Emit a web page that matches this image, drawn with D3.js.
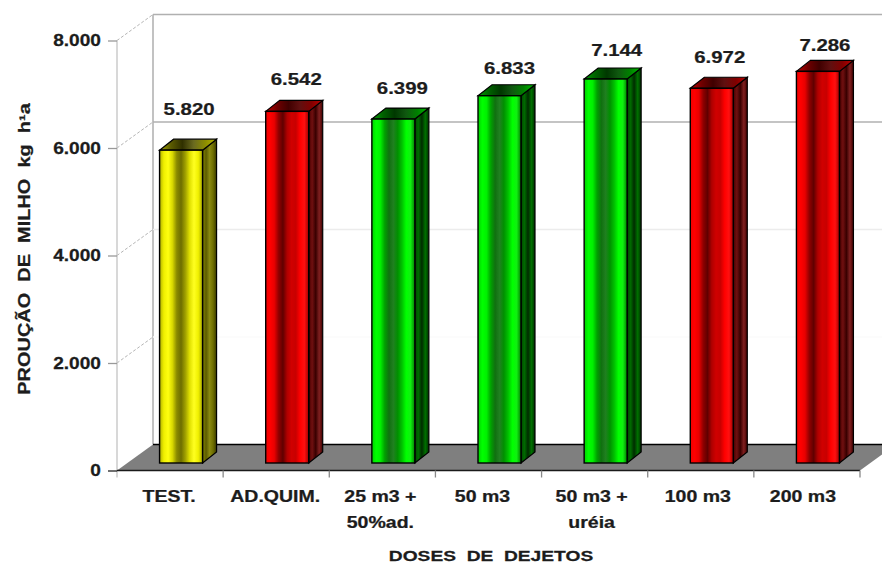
<!DOCTYPE html>
<html>
<head>
<meta charset="utf-8">
<script src="https://cdn.jsdelivr.net/npm/d3@7/dist/d3.min.js"></script>
<style>
html,body{margin:0;padding:0;background:#fff}
svg{display:block}
text{font-family:"Liberation Sans",Arial,sans-serif;font-weight:bold;fill:#1c1c1c;stroke:#1c1c1c;stroke-width:0.25px}
</style>
</head>
<body>
<svg id="chart" width="882" height="565"></svg>
<script>
const categories = ["TEST.", "AD.QUIM.", "25 m3 +|50%ad.", "50 m3", "50 m3 +|uréia", "100 m3", "200 m3"];
const yields = [5820, 6542, 6399, 6833, 7144, 6972, 7286];
const valueLabels = ["5.820", "6.542", "6.399", "6.833", "7.144", "6.972", "7.286"];
const barHues = ["yellow", "red", "green", "green", "green", "red", "red"];
const yTicks = [0, 2000, 4000, 6000, 8000];
const yTickLabels = ["0", "2.000", "4.000", "6.000", "8.000"];

const svg = d3.select("#chart");
const W = 882;

// Front plane of the 3D box and the oblique offset of its back wall
const x = d3.scaleBand().domain(d3.range(categories.length)).range([117, 860]).padding(0);
const y = d3.scaleLinear().domain([0, 8000]).range([470.5, 40.5]);
const depth = {x: 36, y: -26};
const barOffset = {x: 11, y: -7.5};
const barSide = {x: 14, y: -11};
const barWidth = 43;

// Banded metallic shading for each bar colour
const palettes = {
  yellow: {front: ["#b0b000","#f0f000","#ffff10","#d8d800","#8a8a00","#6e6e00","#a0a000","#e0e000","#ffff20","#f0f000","#a8a800"],
           side: ["#8a8a00","#5c5c00","#8a8a10","#6e6e00","#3a3a00"], top: ["#a8a800","#5a5a00","#303000","#6a6a20","#8c8c00","#b8b800"]},
  red: {front: ["#f00000","#ff0000","#e80000","#900000","#600000","#b00000","#d00000","#c80000","#ff0000","#ff1010","#a00000"],
        side: ["#480000","#701010","#380000","#802020","#400000"], top: ["#c00000","#700000","#400000","#601010","#800000","#c00000"]},
  green: {front: ["#00d000","#00ff00","#00f000","#00a000","#107010","#208020","#009000","#00c000","#00ff00","#10f010","#008000"],
          side: ["#004800","#006a00","#002c00","#007000","#003000"], top: ["#00a000","#006000","#003800","#105810","#008000","#00c000"]}
};

const defs = svg.append("defs");
function addGradient(id, stops) {
  const g = defs.append("linearGradient").attr("id", id)
    .attr("x1", "0%").attr("x2", "100%").attr("y1", "0%").attr("y2", "0%");
  stops.forEach((c, i) => g.append("stop")
    .attr("offset", (i / (stops.length - 1) * 100) + "%").attr("stop-color", c));
}
Object.entries(palettes).forEach(([k, p]) => {
  addGradient(k + "-front", p.front);
  addGradient(k + "-side", p.side);
  addGradient(k + "-top", p.top);
});

// Back wall
const wall = svg.append("g");
wall.append("line")
  .attr("x1", x(0) + depth.x).attr("x2", x(0) + depth.x)
  .attr("y1", y(8000) + depth.y).attr("y2", y(0) + depth.y)
  .attr("stroke", "#a8a8a8").attr("stroke-width", 1.4);
const wallStyle = {2000: "#fbfbfb", 4000: "#ececec", 6000: "#b0b0b0", 8000: "#b0b0b0"};
wall.selectAll(".grid").data(yTicks.filter(d => d > 0)).join("line")
  .attr("x1", x(0) + depth.x).attr("x2", W)
  .attr("y1", d => y(d) + depth.y).attr("y2", d => y(d) + depth.y)
  .attr("stroke", d => wallStyle[d]).attr("stroke-width", 1.4);
wall.selectAll(".diag").data(yTicks.filter(d => d > 0)).join("line")
  .attr("x1", x(0)).attr("x2", x(0) + depth.x)
  .attr("y1", d => y(d)).attr("y2", d => y(d) + depth.y)
  .attr("stroke", "#b4b4b4").attr("stroke-dasharray", "3 2");

// Floor of the box, running off the right edge
const floorRight = x.range()[1];
svg.append("polygon")
  .attr("points", [
    [x(0), y(0)], [floorRight, y(0)],
    [floorRight + depth.x, y(0) + depth.y], [x(0) + depth.x, y(0) + depth.y]
  ].map(p => p.join(",")).join(" "))
  .attr("fill", "#7f7f7f");
svg.append("line")
  .attr("x1", x(0) + depth.x).attr("x2", W)
  .attr("y1", y(0) + depth.y).attr("y2", y(0) + depth.y)
  .attr("stroke", "#000").attr("stroke-width", 1.4);

// Front axes
svg.append("line")
  .attr("x1", x(0)).attr("x2", x(0)).attr("y1", y(8000)).attr("y2", y(0) + 7)
  .attr("stroke", "#c8c8c8").attr("stroke-width", 1.4);

// The lettering is set horizontally widened, so each label gets an x scale
const yLabelStretch = 1.16;
const yAxis = d3.axisLeft(y).tickValues(yTicks)
  .tickFormat((d, i) => yTickLabels[i]).tickSize(9).tickPadding(7);
const yG = svg.append("g").attr("transform", `translate(${x(0)},0)`).call(yAxis);
yG.select(".domain").remove();
yG.selectAll(".tick line").attr("stroke", d => d === 0 ? "#222" : "#999").attr("stroke-width", 1.3);
yG.selectAll("text").style("font-size", "16.5px")
  .attr("x", -16 / yLabelStretch)
  .attr("transform", `scale(${yLabelStretch},1)`);

svg.append("line")
  .attr("x1", x(0)).attr("x2", floorRight).attr("y1", y(0)).attr("y2", y(0))
  .attr("stroke", "#1a1a1a").attr("stroke-width", 1.4);
svg.selectAll(".xtick").data(d3.range(1, categories.length + 1)).join("line")
  .attr("x1", d => x.range()[0] + d * x.step()).attr("x2", d => x.range()[0] + d * x.step())
  .attr("y1", y(0)).attr("y2", y(0) + 7)
  .attr("stroke", "#888").attr("stroke-width", 1.3);

// Bars: side face, top face, front face
const bars = svg.append("g").selectAll("g").data(yields).join("g")
  .attr("transform", (d, i) => `translate(${x(i) + x.bandwidth() / 2 + barOffset.x - barWidth / 2},0)`);
const base = y(0) + barOffset.y;
const heightOf = d => y(0) - y(d);
bars.append("polygon")
  .attr("points", d => {
    const t = base - heightOf(d);
    return [[barWidth, t], [barWidth + barSide.x, t + barSide.y],
            [barWidth + barSide.x, base + barSide.y], [barWidth, base]].join(" ");
  })
  .attr("fill", (d, i) => `url(#${barHues[i]}-side)`).attr("stroke", "#000").attr("stroke-width", 1.2);
bars.append("polygon")
  .attr("points", d => {
    const t = base - heightOf(d);
    return [[0, t], [barSide.x, t + barSide.y], [barWidth + barSide.x, t + barSide.y], [barWidth, t]].join(" ");
  })
  .attr("fill", (d, i) => `url(#${barHues[i]}-top)`).attr("stroke", "#000").attr("stroke-width", 1.2);
bars.append("rect")
  .attr("x", 0).attr("width", barWidth)
  .attr("y", d => base - heightOf(d)).attr("height", heightOf)
  .attr("fill", (d, i) => `url(#${barHues[i]}-front)`).attr("stroke", "#000").attr("stroke-width", 1.4);

// Value labels above the bars
const labelLift = [35, 26, 25, 22, 23, 25, 20];
const labelShift = [8, 9, 9, 10, 11, 8, 7];
svg.selectAll(".val").data(yields).join("text")
  .attr("transform", (d, i) =>
    `translate(${x(i) + x.bandwidth() / 2 + barOffset.x + labelShift[i]},${base - heightOf(d) - labelLift[i]}) scale(1.2,1)`)
  .attr("text-anchor", "middle").style("font-size", "17px")
  .text((d, i) => valueLabels[i]);

// Category labels, broken over two lines where needed
const catShift = [-1, -1, -2, -6, -3, -3, -4];
const catText = svg.selectAll(".cat").data(categories).join("text")
  .attr("text-anchor", "middle").style("font-size", "16px")
  .attr("transform", (d, i) => `translate(${x(i) + x.bandwidth() / 2 + catShift[i]},502) scale(1.22,1)`);
catText.selectAll("tspan").data(d => d.split("|")).join("tspan")
  .attr("x", 0).attr("y", (d, i) => i * 26).text(d => d);

// Axis titles
svg.append("text").attr("transform", "translate(491,561) scale(1.28,1)").attr("text-anchor", "middle")
  .style("font-size", "15px").style("white-space", "pre")
  .text("DOSES  DE  DEJETOS");
svg.append("text").attr("transform", "translate(30,249) rotate(-90) scale(1.21,1)").attr("text-anchor", "middle")
  .style("font-size", "16.5px").style("white-space", "pre")
  .text("PROUÇÃO  DE  MILHO  kg  h¹a");
</script>
</body>
</html>
